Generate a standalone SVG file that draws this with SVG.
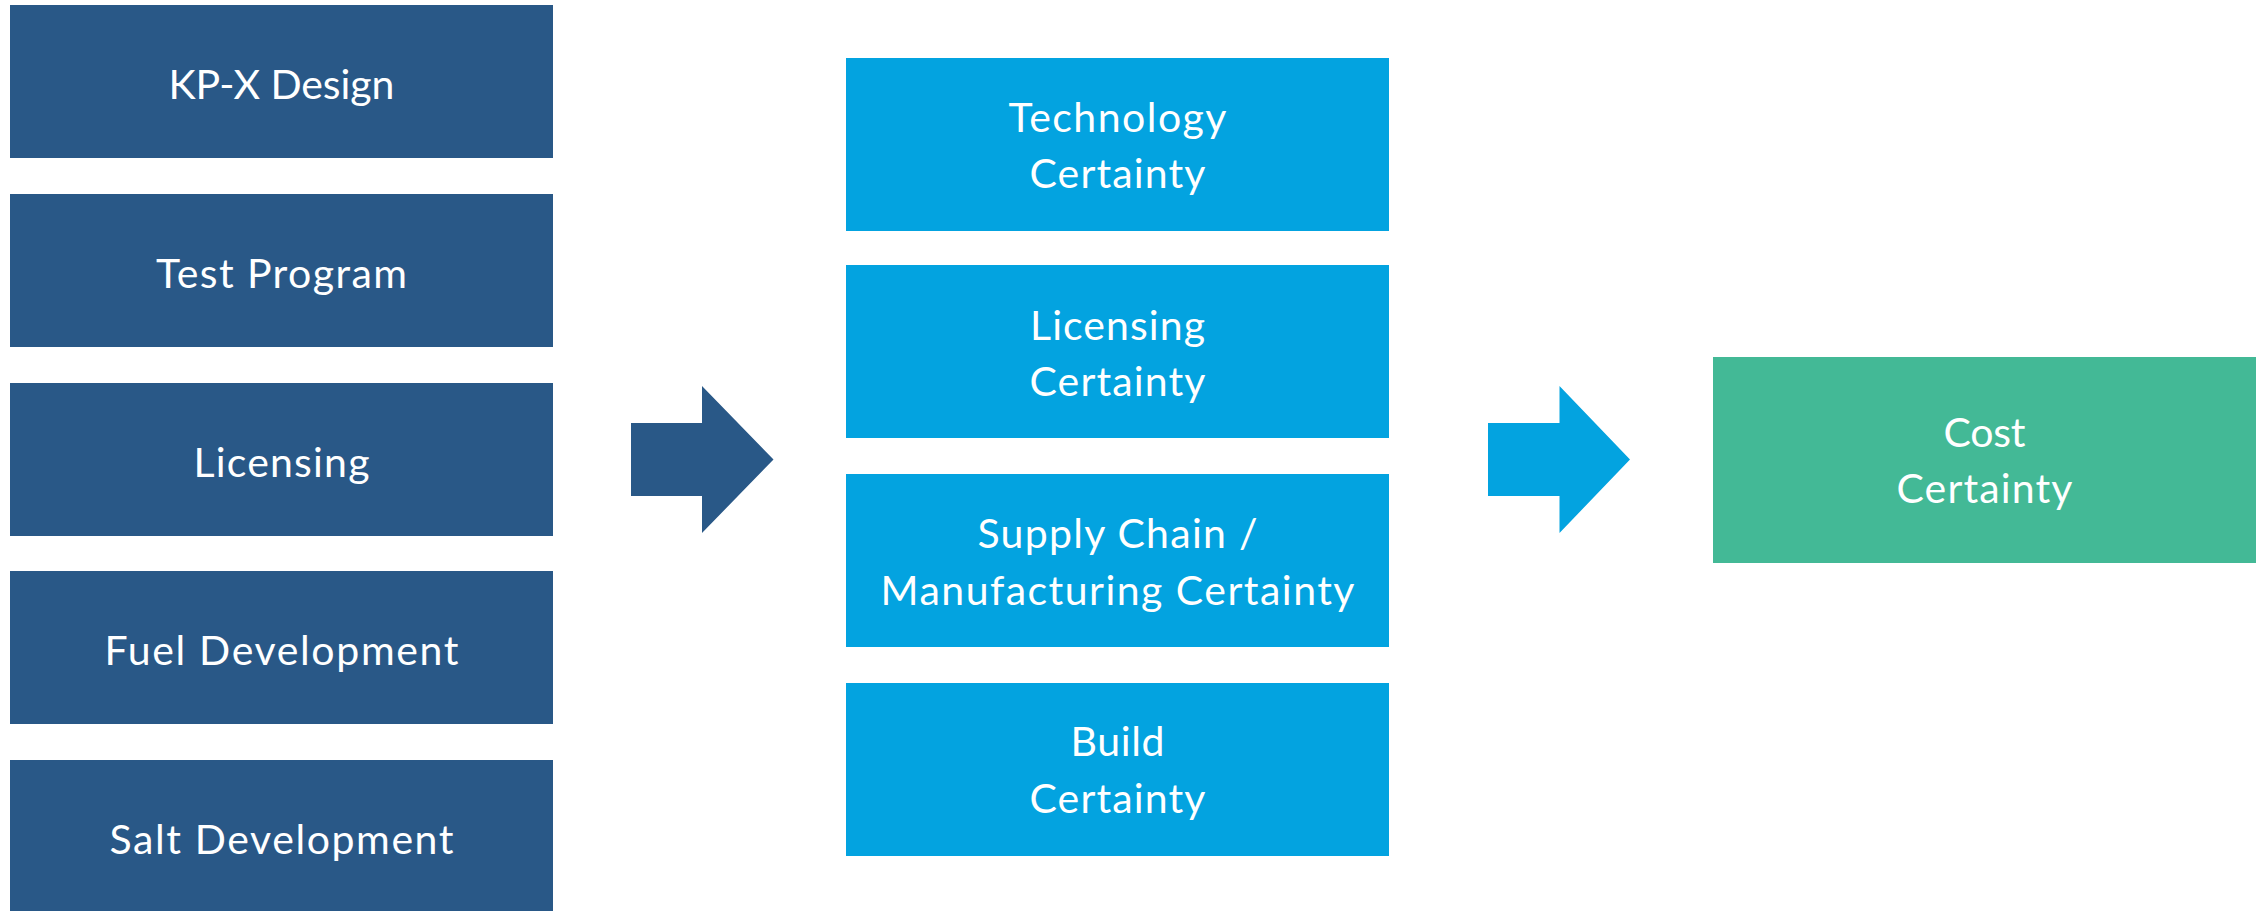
<svg xmlns="http://www.w3.org/2000/svg" width="2260" height="911" viewBox="0 0 2260 911">
<style>
.dark{fill:#295887}
.light{fill:#03A3E0}
.green{fill:#43B996}
text{font-family:Lato,"Open Sans","Liberation Sans",sans-serif;font-size:41px;fill:#ffffff;text-anchor:middle}
</style>
<rect width="2260" height="911" fill="#ffffff"/>
<g id="kpx-design"><rect class="dark" x="10" y="5" width="543" height="153"/><text x="281.5" y="98.5" textLength="226">KP-X Design</text></g>
<g id="test-program"><rect class="dark" x="10" y="194" width="543" height="153"/><text x="281.5" y="287.5" textLength="251">Test Program</text></g>
<g id="licensing"><rect class="dark" x="10" y="383" width="543" height="153"/><text x="281.5" y="476.5" textLength="176">Licensing</text></g>
<g id="fuel-development"><rect class="dark" x="10" y="571" width="543" height="153"/><text x="281.5" y="664.5" textLength="354">Fuel Development</text></g>
<g id="salt-development"><rect class="dark" x="10" y="760" width="543" height="151"/><text x="281.5" y="853.5" textLength="344">Salt Development</text></g>
<g id="technology-certainty"><rect class="light" x="846" y="58" width="543" height="173"/><text x="1117.5" y="131.5" textLength="218">Technology</text><text x="1117.5" y="187.5" textLength="176">Certainty</text></g>
<g id="licensing-certainty"><rect class="light" x="846" y="265" width="543" height="173"/><text x="1117.5" y="340" textLength="175">Licensing</text><text x="1117.5" y="395.5" textLength="176">Certainty</text></g>
<g id="supply-chain-certainty"><rect class="light" x="846" y="474" width="543" height="173"/><text x="1117.5" y="547.5" textLength="280">Supply Chain /</text><text x="1117.5" y="604.5" textLength="474">Manufacturing Certainty</text></g>
<g id="build-certainty"><rect class="light" x="846" y="683" width="543" height="173"/><text x="1117.5" y="755.5" textLength="94">Build</text><text x="1117.5" y="812.5" textLength="176">Certainty</text></g>
<g id="cost-certainty"><rect class="green" x="1713" y="357" width="543" height="206"/><text x="1984.5" y="446.5" textLength="82">Cost</text><text x="1984.5" y="502.5" textLength="176">Certainty</text></g>
<g id="connectors">
<polygon class="dark" points="631,423 702,423 702,386 773.5,459.5 702,533 702,496 631,496"/>
<polygon class="light" points="1488,423 1559.5,423 1559.5,386 1630,459.5 1559.5,533 1559.5,496 1488,496"/>
</g>
</svg>
